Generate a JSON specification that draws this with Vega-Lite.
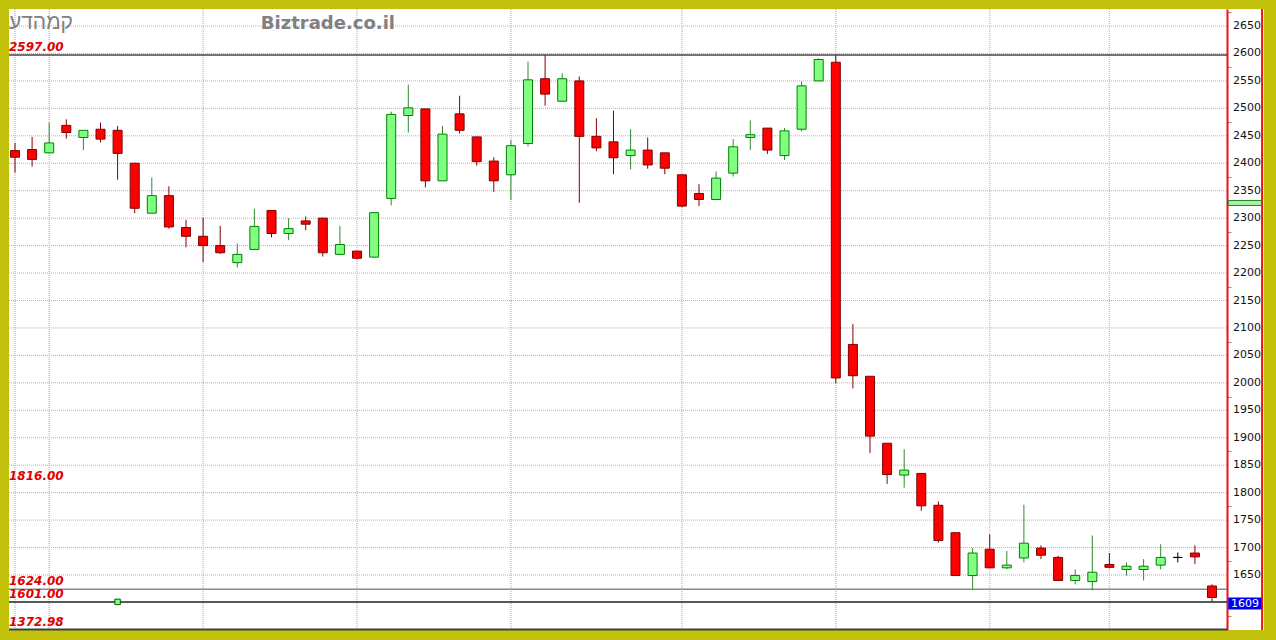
{
  "$schema": "https://vega.github.io/schema/vega-lite/v6.json",
  "width": 1255,
  "height": 621,
  "autosize": {"type": "none"},
  "padding": {"left": 9, "top": 9, "right": 12, "bottom": 10},
  "background": "#c2c20c",
  "config": {"view": {"fill": "white", "stroke": null}, "font": "DejaVu Sans"},
  "datasets": {
    "candles": [
      {"i":0,"o":2423,"h":2437,"l":2383,"c":2411},
      {"i":1,"o":2425,"h":2448,"l":2394,"c":2407},
      {"i":2,"o":2419,"h":2474,"l":2419,"c":2437},
      {"i":3,"o":2469,"h":2480,"l":2445,"c":2456},
      {"i":4,"o":2447,"h":2460,"l":2424,"c":2460},
      {"i":5,"o":2462,"h":2474,"l":2438,"c":2444},
      {"i":6,"o":2460,"h":2468,"l":2370,"c":2418},
      {"i":7,"o":2400,"h":2401,"l":2309,"c":2318},
      {"i":8,"o":2309,"h":2374,"l":2309,"c":2341},
      {"i":9,"o":2341,"h":2358,"l":2281,"c":2284},
      {"i":10,"o":2283,"h":2297,"l":2247,"c":2267},
      {"i":11,"o":2267,"h":2301,"l":2220,"c":2250},
      {"i":12,"o":2250,"h":2286,"l":2235,"c":2237},
      {"i":13,"o":2219,"h":2254,"l":2210,"c":2234},
      {"i":14,"o":2243,"h":2317,"l":2243,"c":2285},
      {"i":15,"o":2314,"h":2314,"l":2265,"c":2272},
      {"i":16,"o":2272,"h":2300,"l":2260,"c":2281},
      {"i":17,"o":2295,"h":2303,"l":2278,"c":2289},
      {"i":18,"o":2300,"h":2301,"l":2230,"c":2237},
      {"i":19,"o":2234,"h":2286,"l":2234,"c":2252},
      {"i":20,"o":2240,"h":2240,"l":2225,"c":2227},
      {"i":21,"o":2229,"h":2310,"l":2229,"c":2310},
      {"i":22,"o":2336,"h":2494,"l":2323,"c":2489},
      {"i":23,"o":2487,"h":2543,"l":2456,"c":2501},
      {"i":24,"o":2499,"h":2499,"l":2356,"c":2368},
      {"i":25,"o":2368,"h":2468,"l":2368,"c":2453},
      {"i":26,"o":2490,"h":2523,"l":2454,"c":2460},
      {"i":27,"o":2448,"h":2448,"l":2396,"c":2403},
      {"i":28,"o":2404,"h":2411,"l":2348,"c":2368},
      {"i":29,"o":2379,"h":2442,"l":2333,"c":2432},
      {"i":30,"o":2436,"h":2585,"l":2431,"c":2552},
      {"i":31,"o":2554,"h":2597,"l":2505,"c":2526},
      {"i":32,"o":2513,"h":2564,"l":2513,"c":2554},
      {"i":33,"o":2550,"h":2558,"l":2328,"c":2449},
      {"i":34,"o":2449,"h":2482,"l":2422,"c":2428},
      {"i":35,"o":2439,"h":2496,"l":2380,"c":2410},
      {"i":36,"o":2414,"h":2462,"l":2389,"c":2424},
      {"i":37,"o":2424,"h":2447,"l":2390,"c":2397},
      {"i":38,"o":2419,"h":2419,"l":2380,"c":2391},
      {"i":39,"o":2379,"h":2379,"l":2320,"c":2322},
      {"i":40,"o":2345,"h":2362,"l":2322,"c":2334},
      {"i":41,"o":2334,"h":2385,"l":2334,"c":2373},
      {"i":42,"o":2382,"h":2444,"l":2376,"c":2430},
      {"i":43,"o":2447,"h":2478,"l":2424,"c":2452},
      {"i":44,"o":2464,"h":2464,"l":2417,"c":2424},
      {"i":45,"o":2414,"h":2464,"l":2406,"c":2459},
      {"i":46,"o":2462,"h":2549,"l":2458,"c":2541},
      {"i":47,"o":2550,"h":2591,"l":2550,"c":2589},
      {"i":48,"o":2584,"h":2597,"l":1999,"c":2009},
      {"i":49,"o":2070,"h":2107,"l":1990,"c":2013},
      {"i":50,"o":2012,"h":2012,"l":1872,"c":1903},
      {"i":51,"o":1890,"h":1890,"l":1816,"c":1833},
      {"i":52,"o":1832,"h":1879,"l":1809,"c":1841},
      {"i":53,"o":1835,"h":1835,"l":1767,"c":1776},
      {"i":54,"o":1777,"h":1784,"l":1709,"c":1713},
      {"i":55,"o":1727,"h":1727,"l":1649,"c":1649},
      {"i":56,"o":1649,"h":1699,"l":1624,"c":1690},
      {"i":57,"o":1697,"h":1724,"l":1663,"c":1663},
      {"i":58,"o":1663,"h":1694,"l":1661,"c":1668},
      {"i":59,"o":1681,"h":1778,"l":1673,"c":1708},
      {"i":60,"o":1699,"h":1704,"l":1679,"c":1686},
      {"i":61,"o":1682,"h":1685,"l":1640,"c":1640},
      {"i":62,"o":1640,"h":1660,"l":1633,"c":1649},
      {"i":63,"o":1638,"h":1722,"l":1622,"c":1655},
      {"i":64,"o":1669,"h":1690,"l":1662,"c":1664},
      {"i":65,"o":1660,"h":1673,"l":1649,"c":1666},
      {"i":66,"o":1660,"h":1679,"l":1640,"c":1666},
      {"i":67,"o":1668,"h":1706,"l":1660,"c":1682},
      {"i":68,"o":1682,"h":1691,"l":1673,"c":1682},
      {"i":69,"o":1690,"h":1704,"l":1670,"c":1683},
      {"i":70,"o":1630,"h":1633,"l":1601,"c":1609}
    ],
    "grid": [
      {"v":1650},{"v":1700},{"v":1750},{"v":1800},{"v":1850},{"v":1900},{"v":1950},{"v":2000},
      {"v":2050},{"v":2100},{"v":2150},{"v":2200},{"v":2250},{"v":2300},{"v":2350},{"v":2400},
      {"v":2450},{"v":2500},{"v":2550},{"v":2600},{"v":2650}
    ],
    "vgrid": [{"i":0},{"i":2},{"i":11},{"i":20},{"i":29},{"i":39},{"i":48},{"i":57},{"i":64}],
    "levels": [
      {"v":2597,"kind":"high","t":"2597.00"},
      {"v":1816,"kind":"mark","t":"1816.00"},
      {"v":1624,"kind":"support","t":"1624.00"},
      {"v":1601,"kind":"low","t":"1601.00"},
      {"v":1372.98,"kind":"min","t":"1372.98"}
    ],
    "last": [{"v":1609,"t":"1609"}],
    "avg": [{"v":2335}],
    "event": [{"i":6,"v":1601}],
    "titles": [{"t":"קמהדע"}],
    "brand": [{"t":"Biztrade.co.il"}]
  },
  "layer": [
    {
      "data": {"name": "grid"},
      "mark": {"type": "rule", "color": "#b4b4b4", "strokeDash": [1, 1], "strokeWidth": 1},
      "encoding": {
        "x": {"datum": -0.351, "type": "quantitative", "scale": {"domain": [-0.351, 73.041], "nice": false, "zero": false, "padding": 0}, "axis": null},
        "x2": {"datum": 70.877},
        "y": {
          "field": "v", "type": "quantitative",
          "scale": {"domain": [1549.8, 2681], "nice": false, "zero": false, "clamp": true, "padding": 0},
          "axis": {
            "orient": "right", "offset": -37, "title": null, "grid": false, "labels": false,
            "values": [1575,1600,1625,1650,1675,1700,1725,1750,1775,1800,1825,1850,1875,1900,1925,1950,1975,2000,2025,2050,2075,2100,2125,2150,2175,2200,2225,2250,2275,2300,2325,2350,2375,2400,2425,2450,2475,2500,2525,2550,2575,2600,2625,2650,2675],
            "domainColor": "#ee1111", "domainWidth": 2,
            "tickColor": "#b08080", "tickSize": 4, "tickWidth": 1
          }
        }
      }
    },
    {
      "data": {"name": "grid"},
      "mark": {"type": "text", "align": "left", "baseline": "middle", "dx": 6, "fill": "#111111", "fontSize": 11, "font": "DejaVu Sans"},
      "encoding": {
        "x": {"datum": 70.877, "type": "quantitative", "axis": null},
        "y": {"field": "v", "type": "quantitative"},
        "text": {"field": "v", "type": "quantitative", "format": "d"}
      }
    },
    {
      "data": {"name": "vgrid"},
      "mark": {"type": "rule", "color": "#c4c4c4", "strokeDash": [1, 1], "strokeWidth": 1.5},
      "encoding": {
        "x": {"field": "i", "type": "quantitative", "axis": null}
      }
    },
    {
      "data": {"name": "levels"},
      "transform": [{"filter": "datum.kind == 'high' || datum.kind == 'support' || datum.kind == 'low'"}],
      "mark": {"type": "rule", "strokeWidth": 1.5},
      "encoding": {
        "x": {"datum": -0.351, "type": "quantitative", "axis": null},
        "x2": {"datum": 70.877},
        "y": {"field": "v", "type": "quantitative"},
        "color": {"field": "kind", "type": "nominal", "scale": {"domain": ["high", "support", "low"], "range": ["#444444", "#888888", "#222222"]}, "legend": null}
      }
    },
    {
      "data": {"name": "candles"},
      "mark": {"type": "rule", "strokeWidth": 1},
      "encoding": {
        "x": {"field": "i", "type": "quantitative", "axis": null},
        "y": {"field": "l", "type": "quantitative"},
        "y2": {"field": "h"},
        "color": {"condition": [{"test": "datum.c > datum.o", "value": "#2f8a2f"}, {"test": "datum.c < datum.o", "value": "#800000"}], "value": "#000000"}
      }
    },
    {
      "data": {"name": "candles"},
      "mark": {"type": "bar", "size": 9, "strokeWidth": 1},
      "encoding": {
        "x": {"field": "i", "type": "quantitative", "axis": null},
        "y": {"field": "o", "type": "quantitative"},
        "y2": {"field": "c"},
        "fill": {"condition": [{"test": "datum.c > datum.o", "value": "#80ff80"}, {"test": "datum.c < datum.o", "value": "#ff0000"}], "value": "#000000"},
        "stroke": {"condition": [{"test": "datum.c > datum.o", "value": "#008000"}, {"test": "datum.c < datum.o", "value": "#800000"}], "value": "#000000"}
      }
    },
    {
      "data": {"name": "event"},
      "mark": {"type": "square", "size": 30, "fill": "#80ff80", "stroke": "#006000", "strokeWidth": 1, "opacity": 1},
      "encoding": {
        "x": {"field": "i", "type": "quantitative", "axis": null},
        "y": {"field": "v", "type": "quantitative"}
      }
    },
    {
      "data": {"name": "levels"},
      "mark": {"type": "text", "align": "left", "baseline": "alphabetic", "dy": -4, "fill": "#e00000", "fontSize": 12, "fontWeight": "bold", "fontStyle": "italic", "font": "DejaVu Sans"},
      "encoding": {
        "x": {"datum": -0.351, "type": "quantitative", "axis": null},
        "y": {"field": "v", "type": "quantitative"},
        "text": {"field": "t"}
      }
    },
    {
      "data": {"values": [{}]},
      "mark": {"type": "rule", "color": "#404040", "strokeWidth": 2},
      "encoding": {
        "x": {"datum": -0.351, "type": "quantitative", "axis": null},
        "x2": {"datum": 70.877},
        "y": {"datum": 1550.5, "type": "quantitative"}
      }
    },
    {
      "data": {"values": [{}]},
      "mark": {"type": "rule", "color": "#ee1111", "strokeWidth": 2},
      "encoding": {
        "x": {"datum": 72.93, "type": "quantitative", "axis": null}
      }
    },
    {
      "data": {"name": "avg"},
      "mark": {"type": "bar", "size": 5, "fill": "#a8f0a8", "stroke": "#208020", "strokeWidth": 1, "yOffset": 4},
      "encoding": {
        "x": {"datum": 70.95, "type": "quantitative", "axis": null},
        "x2": {"datum": 72.9},
        "y": {"field": "v", "type": "quantitative"}
      }
    },
    {
      "data": {"name": "last"},
      "mark": {"type": "bar", "size": 12, "fill": "#0000ee", "yOffset": 6},
      "encoding": {
        "x": {"datum": 70.95, "type": "quantitative", "axis": null},
        "x2": {"datum": 72.9},
        "y": {"field": "v", "type": "quantitative"}
      }
    },
    {
      "data": {"name": "last"},
      "mark": {"type": "text", "align": "center", "baseline": "middle", "dy": 6.5, "fill": "white", "fontSize": 11, "font": "DejaVu Sans"},
      "encoding": {
        "x": {"datum": 71.93, "type": "quantitative", "axis": null},
        "y": {"field": "v", "type": "quantitative"},
        "text": {"field": "t"}
      }
    },
    {
      "data": {"name": "titles"},
      "mark": {"type": "text", "align": "left", "baseline": "middle", "fill": "#808080", "fontSize": 21, "font": "Liberation Sans"},
      "encoding": {
        "x": {"datum": -0.351, "type": "quantitative", "axis": null},
        "y": {"datum": 2655, "type": "quantitative"},
        "text": {"field": "t"}
      }
    },
    {
      "data": {"name": "brand"},
      "mark": {"type": "text", "align": "center", "baseline": "middle", "fill": "#808080", "fontSize": 18, "fontWeight": "bold", "font": "DejaVu Sans"},
      "encoding": {
        "x": {"datum": 18.3, "type": "quantitative", "axis": null},
        "y": {"datum": 2654, "type": "quantitative"},
        "text": {"field": "t"}
      }
    }
  ]
}
